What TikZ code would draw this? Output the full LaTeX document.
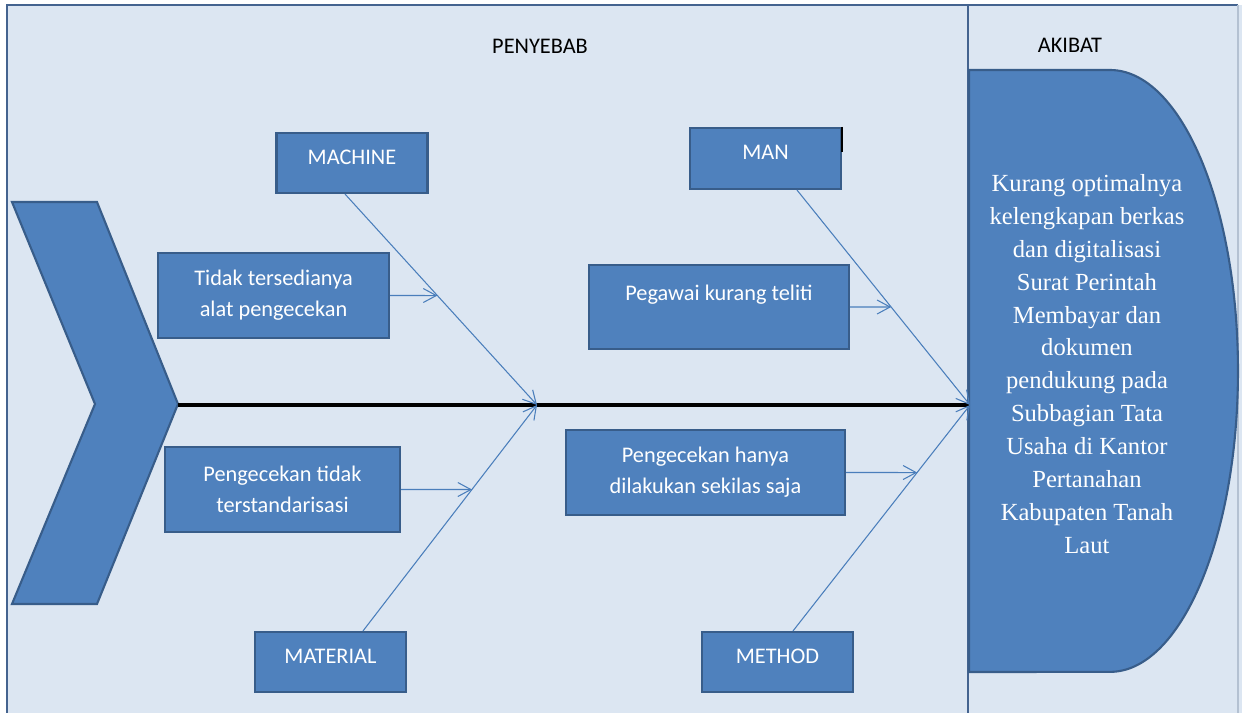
\documentclass[tikz,border=0pt]{standalone}
\usepackage{fontspec}
\setmainfont{Carlito}
\newfontfamily\akibatfont{Liberation Serif}
\usepackage{tikz}
\usetikzlibrary{calc,arrows.meta}

\definecolor{paneblue}{HTML}{DCE6F2}
\definecolor{boxblue}{HTML}{4F81BD}
\definecolor{rimblue}{HTML}{385D8A}
\definecolor{frameblue}{HTML}{44638F}
\definecolor{boneblue}{HTML}{4A7EBB}

\tikzset{
  causebox/.style = {draw=rimblue, line width=1.2pt, fill=boxblue, text=white, align=center,
    inner sep=0pt, font=\fontsize{12.7}{17.6}\selectfont},
  catbox/.style = {causebox, minimum width=3.02cm, minimum height=1.2cm, text height=0.29cm, text depth=0.24cm},
  bone/.style = {draw=boneblue, line width=0.6pt, -{Straight Barb[length=0.26cm,width=0.28cm]}},
  heading/.style = {font=\fontsize{12.7}{17.6}\selectfont}
}

\begin{document}
\begin{tikzpicture}[x=0.02cm, y=-0.02cm]
  \useasboundingbox (0,0) rectangle (1242,713);
  \fill[paneblue] (7,5) rectangle (1242,713);
  \draw[frameblue, line width=1.6pt] (7,713) -- (7,5) -- (1238,5);
  \draw[white!60!frameblue, line width=0.8pt] (1238,5) -- (1238,713);
  \draw[frameblue, line width=1.2pt] (968,5) -- (968,713);

  \node[heading] (penyebab) at (540,46) {PENYEBAB};
  \node[heading] (akibat) at (1070,45) {AKIBAT};

  % kepala
  \draw[rimblue, line width=1.2pt, fill=boxblue] (969,70) -- (1110,70)
    arc[start angle=90, end angle=-90, x radius=2.56cm, y radius=6.02cm] -- (969,672) -- cycle;
  \node[text=white, align=center, font=\akibatfont\fontsize{14}{18.7}\selectfont] (hasil) at (1087,364)
    {Kurang optimalnya\\kelengkapan berkas\\dan digitalisasi\\Surat Perintah\\Membayar dan\\dokumen\\pendukung pada\\Subbagian Tata\\Usaha di Kantor\\Pertanahan\\Kabupaten Tanah\\Laut};

  % ekor
  \draw[rimblue, line width=1.2pt, fill=boxblue] (12,202) -- (97,202) -- (178,404) -- (97,604) -- (12,604) -- (95,404) -- cycle;

  \coordinate (tail) at (178,405);
  \coordinate (head) at (970,405);
  \coordinate (midbone) at (537,405);
  \draw[line width=2.2pt] (tail) -- (head);

  \node[catbox] (machine) at (352,163) {MACHINE};
  \node[catbox] (material) at (330.5,662) {MATERIAL};
  \node[catbox, minimum height=1.22cm] (man) at (765.5,158.5) {MAN};
  \node[catbox] (method) at (777.5,662) {METHOD};

  \node[causebox, minimum width=4.62cm, minimum height=1.7cm] (alat) at (273.5,295.5) {Tidak tersedianya\\alat pengecekan};
  \node[causebox, minimum width=4.7cm, minimum height=1.7cm] (standar) at (282.5,489.5) {Pengecekan tidak\\terstandarisasi};
  \node[causebox, minimum width=5.2cm, minimum height=1.68cm, text height=0.29cm, text depth=0.56cm] (teliti) at (719,307) {Pegawai kurang teliti};
  \node[causebox, minimum width=5.58cm, minimum height=1.7cm] (sekilas) at (705.5,472.5) {Pengecekan hanya\\dilakukan sekilas saja};

  \draw[line width=1.2pt] (842,127) -- (842,152);

  \coordinate (machfoot) at ([xshift=-0.14cm]machine.south);
  \coordinate (matfoot) at ([xshift=0.65cm]material.north);
  \coordinate (manfoot) at ([xshift=0.63cm]man.south);
  \coordinate (methfoot) at ([xshift=0.31cm]method.north);

  \draw[bone] (machfoot) -- (midbone);
  \draw[bone] (matfoot) -- (midbone);
  \draw[bone] (manfoot) -- (head);
  \draw[bone] (methfoot) -- (head);

  \coordinate (alatend) at (alat.east -| midbone);
  \coordinate (standarend) at (standar.east -| midbone);
  \coordinate (telitiend) at (teliti.east -| head);
  \coordinate (sekilasend) at (sekilas.east -| head);

  \draw[bone] (alat.east) -- (intersection of machfoot--midbone and alat.east--alatend);
  \draw[bone] (standar.east) -- (intersection of matfoot--midbone and standar.east--standarend);
  \draw[bone] (teliti.east) -- (intersection of manfoot--head and teliti.east--telitiend);
  \draw[bone] (sekilas.east) -- (intersection of methfoot--head and sekilas.east--sekilasend);
\end{tikzpicture}
\end{document}
